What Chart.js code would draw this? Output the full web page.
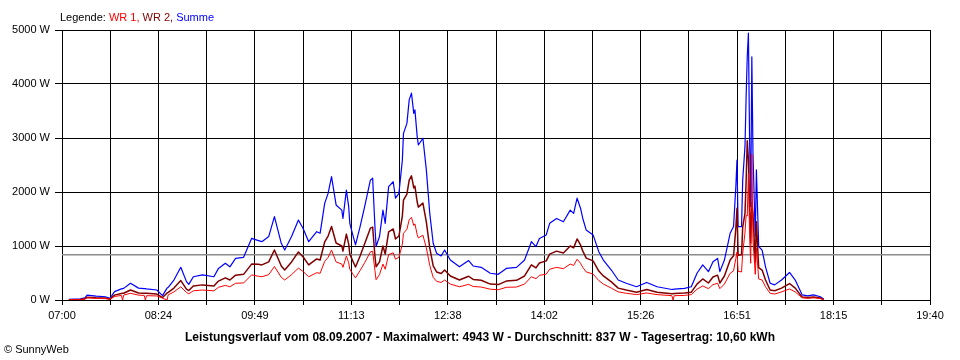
<!DOCTYPE html>
<html lang="de">
<head>
<meta charset="utf-8">
<title>Leistungsverlauf 08.09.2007</title>
<script src="https://cdn.jsdelivr.net/npm/chart.js@4.4.1/dist/chart.umd.min.js"></script>
<style>
  body { margin: 0; background: #fff; }
  #leistungChart { display: block; }
</style>
</head>
<body>
<canvas id="leistungChart" width="960" height="360"></canvas>
<script>
// Messzeitpunkte (HH:MM)
const zeiten = [
  '07:06', '07:16', '07:20', '07:22', '07:30', '07:38', '07:42', '07:46', '07:52', '07:53',
  '07:54', '08:00', '08:07', '08:12', '08:13', '08:14', '08:23', '08:28', '08:32', '08:33',
  '08:38', '08:44', '08:49', '08:51', '08:55', '09:03', '09:13', '09:17', '09:23', '09:27',
  '09:32', '09:39', '09:46', '09:52', '09:55', '10:01', '10:06', '10:12', '10:15', '10:21',
  '10:27', '10:31', '10:36', '10:43', '10:46', '10:50', '10:53', '10:56', '11:00', '11:05',
  '11:06', '11:09', '11:11', '11:12', '11:15', '11:17', '11:21', '11:25', '11:30', '11:32',
  '11:34', '11:35', '11:38', '11:41', '11:43', '11:46', '11:50', '11:52', '11:55', '11:58',
  '11:59', '12:02', '12:04', '12:06', '12:08', '12:09', '12:11', '12:12', '12:16', '12:19',
  '12:22', '12:25', '12:28', '12:32', '12:35', '12:40', '12:48', '12:56', '13:00', '13:07',
  '13:15', '13:22', '13:29', '13:38', '13:45', '13:51', '13:55', '13:58', '14:04', '14:07',
  '14:13', '14:19', '14:25', '14:28', '14:31', '14:34', '14:36', '14:39', '14:45', '14:50',
  '14:54', '15:01', '15:07', '15:14', '15:23', '15:32', '15:41', '15:54', '15:55', '15:56',
  '16:05', '16:11', '16:16', '16:21', '16:26', '16:30', '16:34', '16:36', '16:40', '16:45',
  '16:48', '16:50', '16:51', '16:52', '16:55', '16:56', '16:58', '16:59', '17:00', '17:01',
  '17:02', '17:03', '17:04', '17:05', '17:07', '17:08', '17:10', '17:13', '17:16', '17:20',
  '17:24', '17:30', '17:37', '17:42', '17:48', '17:53', '17:58', '18:04', '18:07'
];

// Leistung in W
const summe = [
  10, 20, 40, 90, 70, 60, 30, 155, 205, 210,
  215, 310, 220, 210, 210, 205, 185, 80, 220, 235,
  370, 605, 340, 290, 430, 465, 430, 585, 680, 615,
  770, 790, 1140, 1100, 1080, 1175, 1545, 1050, 925, 1175,
  1480, 1330, 1080, 1265, 1235, 1790, 1975, 2285, 1760, 1665,
  1510, 2035, 1730, 1420, 1175, 1020, 1360, 1730, 2220, 2255,
  1360, 990, 1175, 1665, 1420, 2100, 2190, 1885, 1975, 2590,
  3085, 3270, 3705, 3830, 3455, 3520, 3025, 2870, 2995, 2410,
  1605, 1050, 865, 815, 925, 740, 615, 730, 630, 605,
  495, 475, 585, 605, 740, 1080, 990, 1140, 1205, 1420,
  1510, 1450, 1665, 1605, 1885, 1700, 1510, 1295, 1205, 895,
  740, 555, 370, 310, 245, 325, 245, 195, 195, 200,
  215, 245, 495, 650, 525, 710, 770, 525, 740, 1235,
  1360, 2100, 2590, 1360, 1360, 2220, 2840, 3765, 4505, 4943,
  3025, 1730, 4505, 2715, 1175, 2410, 990, 925, 615, 310,
  280, 370, 510, 370, 95, 75, 95, 60, 15
];

const wr2 = [
  5, 10, 25, 50, 40, 35, 15, 90, 120, 125,
  125, 185, 130, 125, 125, 125, 110, 45, 130, 140,
  220, 360, 200, 175, 260, 280, 260, 350, 410, 370,
  460, 475, 665, 660, 650, 705, 925, 630, 555, 705,
  890, 800, 650, 760, 740, 1075, 1185, 1360, 1055, 1000,
  905, 1220, 1040, 850, 705, 610, 815, 1040, 1330, 1350,
  815, 615, 705, 1000, 850, 1260, 1315, 1130, 1185, 1555,
  1850, 1960, 2220, 2300, 2075, 2110, 1815, 1720, 1795, 1445,
  965, 630, 520, 490, 555, 445, 370, 440, 380, 365,
  295, 285, 350, 365, 445, 650, 595, 685, 725, 850,
  905, 870, 1000, 965, 1130, 1020, 905, 775, 725, 535,
  445, 335, 220, 185, 145, 195, 145, 115, 115, 120,
  130, 145, 295, 390, 315, 425, 460, 315, 445, 740,
  820, 1330, 1700, 830, 840, 1350, 1600, 2200, 2950, 2600,
  1800, 1050, 1805, 1600, 700, 1450, 600, 555, 370, 185,
  170, 220, 305, 220, 55, 45, 55, 35, 10
];

const wr1 = [
  5, 10, 15, 40, 30, 25, 15, 65, 85, 0,
  90, 125, 90, 85, 0, 80, 75, 35, 0, 95,
  150, 245, 140, 115, 170, 185, 170, 235, 270, 245,
  310, 315, 465, 440, 430, 470, 620, 420, 370, 470,
  590, 530, 430, 505, 495, 715, 790, 925, 705, 665,
  605, 815, 690, 570, 470, 410, 545, 690, 890, 905,
  545, 375, 470, 665, 570, 840, 875, 755, 790, 1035,
  1235, 1310, 1485, 1530, 1380, 1410, 1210, 1150, 1200, 965,
  640, 420, 345, 325, 370, 295, 245, 290, 250, 240,
  200, 190, 235, 240, 295, 430, 395, 455, 480, 570,
  605, 580, 665, 640, 755, 680, 605, 520, 480, 360,
  295, 220, 150, 125, 100, 130, 100, 80, 0, 80,
  85, 100, 200, 260, 210, 285, 310, 210, 295, 495,
  540, 770, 890, 530, 520, 870, 1240, 1565, 1555, 2345,
  1225, 680, 2700, 1115, 475, 960, 390, 370, 245, 125,
  110, 150, 205, 150, 40, 30, 40, 25, 5
];

const durchschnitt = 837;
const yTicks = [0, 1000, 2000, 3000, 4000, 5000];
const xBeschriftung = ['07:00', '08:24', '09:49', '11:13', '12:38', '14:02', '15:26', '16:51', '18:15', '19:40'];
const titelText = 'Leistungsverlauf vom 08.09.2007 - Maximalwert: 4943 W - Durchschnitt: 837 W - Tagesertrag: 10,60 kWh';

const schrift = '"Liberation Sans", Arial, sans-serif';

function zuMinuten(zeit) {
  const [h, m] = zeit.split(':').map(Number);
  return h * 60 + m;
}

const xMin = zuMinuten(xBeschriftung[0]);
const xMax = zuMinuten(xBeschriftung[xBeschriftung.length - 1]);
const xSchritte = (xBeschriftung.length - 1) * 2;

function punkte(werte) {
  return zeiten.map((z, i) => ({ x: zuMinuten(z), y: werte[i] }));
}

// Legende, Titel unten und Copyright
const textePlugin = {
  id: 'texte',
  afterDraw(chart) {
    const ctx = chart.ctx;
    ctx.save();
    ctx.textBaseline = 'alphabetic';
    ctx.textAlign = 'left';
    ctx.font = '11px ' + schrift;
    const teile = [
      ['Legende: ', '#000000'],
      ['WR 1, ', '#ff0000'],
      ['WR 2, ', '#800000'],
      ['Summe', '#0000ff']
    ];
    let x = 60;
    teile.forEach(([text, farbe]) => {
      ctx.fillStyle = farbe;
      ctx.fillText(text, x, 21);
      x += ctx.measureText(text).width;
    });

    ctx.fillStyle = '#000000';
    ctx.font = 'bold 12px ' + schrift;
    ctx.textAlign = 'center';
    ctx.fillText(titelText, 480, 341);

    ctx.font = '11px ' + schrift;
    ctx.textAlign = 'left';
    ctx.fillText('\u00a9 SunnyWeb', 4, 353);
    ctx.restore();
  }
};

const ctx = document.getElementById('leistungChart').getContext('2d');
const linie = { pointRadius: 0, fill: false, tension: 0, borderJoinStyle: 'round' };

new Chart(ctx, {
  type: 'line',
  data: {
    datasets: [
      { ...linie, label: 'WR 1', data: punkte(wr1), borderColor: '#ff0000', borderWidth: 1 },
      { ...linie, label: 'WR 2', data: punkte(wr2), borderColor: '#800000', borderWidth: 1.5 },
      { ...linie, label: 'Summe', data: punkte(summe), borderColor: '#0000ff', borderWidth: 1.2 },
      {
        ...linie,
        label: 'Durchschnitt',
        data: [{ x: xMin, y: durchschnitt }, { x: xMax, y: durchschnitt }],
        borderColor: '#8c8c8c',
        borderWidth: 1.5
      }
    ]
  },
  options: {
    responsive: false,
    animation: false,
    devicePixelRatio: 1,
    layout: { padding: { top: 30, right: 30, left: 0, bottom: 0 } },
    scales: {
      x: {
        type: 'linear',
        min: xMin,
        max: xMax,
        afterBuildTicks: (scale) => {
          scale.ticks = Array.from({ length: xSchritte + 1 }, (_, i) => ({
            value: xMin + i * (xMax - xMin) / xSchritte
          }));
        },
        afterFit: (scale) => { scale.height = 60; },
        ticks: {
          autoSkip: false,
          maxRotation: 0,
          minRotation: 0,
          color: '#000000',
          padding: 4,
          font: { family: schrift, size: 11 },
          callback: (wert, index) => (index % 2 === 0 ? xBeschriftung[index / 2] : '')
        },
        grid: { color: '#000000', tickColor: '#000000', tickLength: 5, lineWidth: 1 },
        border: { color: '#000000' }
      },
      y: {
        min: 0,
        max: 5000,
        afterBuildTicks: (scale) => {
          scale.ticks = yTicks.map((v) => ({ value: v }));
        },
        afterFit: (scale) => { scale.width = 62; },
        ticks: {
          color: '#000000',
          padding: 5,
          font: { family: schrift, size: 11 },
          callback: (wert) => wert + ' W'
        },
        grid: { color: '#000000', tickColor: '#000000', tickLength: 7, lineWidth: 1 },
        border: { color: '#000000' }
      }
    },
    plugins: {
      legend: { display: false },
      title: { display: false },
      tooltip: { enabled: false }
    }
  },
  plugins: [textePlugin]
});
</script>
</body>
</html>
